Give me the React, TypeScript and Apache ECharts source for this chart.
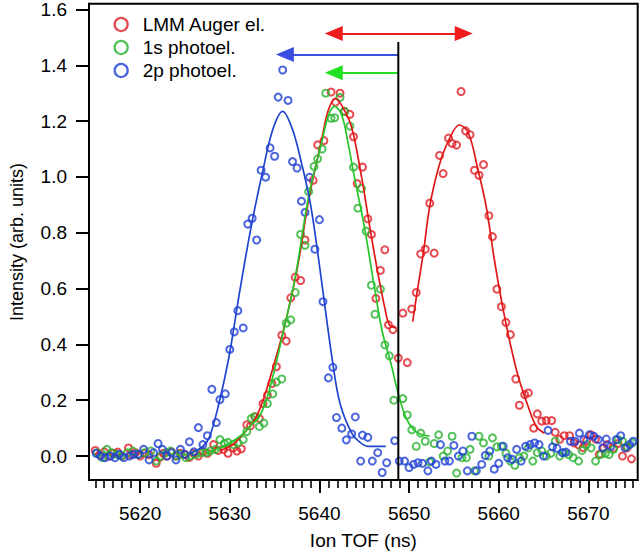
import React, { useEffect, useRef } from "react";
import * as echarts from "echarts";

// ---- data ----
const redData: [number, number][] = [
  [5615.0, 0.02], [5615.5, 0.005], [5616.0, 0.015], [5616.5, 0.0], [5617.0, 0.01], [5617.5, 0.014],
  [5618.0, 0.0], [5618.7, 0.029], [5619.0, 0.005], [5619.5, 0.012], [5620.0, 0.0], [5620.5, 0.01],
  [5621.0, 0.005], [5621.8, -0.026], [5622.2, -0.005], [5622.6, 0.01], [5623.0, 0.0], [5623.5, 0.015],
  [5624.0, 0.0], [5624.5, 0.01], [5625.0, 0.005], [5625.5, -0.005], [5626.0, 0.01], [5626.5, 0.0],
  [5627.0, 0.015], [5627.5, 0.01], [5628.2, 0.041], [5628.7, 0.02], [5629.3, 0.024], [5629.8, 0.01],
  [5630.4, 0.029], [5630.8, 0.018], [5631.3, 0.026], [5631.9, 0.112], [5632.3, 0.108], [5632.8, 0.141],
  [5633.3, 0.135], [5633.7, 0.188], [5634.2, 0.218], [5634.7, 0.26], [5635.2, 0.32], [5635.8, 0.433],
  [5636.3, 0.412], [5636.8, 0.567], [5637.3, 0.641], [5637.9, 0.629], [5638.4, 0.774], [5639.3, 0.988],
  [5639.8, 1.115], [5640.5, 1.13], [5641.3, 1.304], [5641.8, 1.268], [5642.3, 1.3], [5642.8, 1.235],
  [5643.4, 1.224], [5643.8, 1.144], [5644.2, 0.976], [5644.8, 1.035], [5645.4, 0.85], [5645.8, 0.794],
  [5646.3, 0.565], [5646.8, 0.665], [5647.3, 0.739], [5647.7, 0.47], [5648.2, 0.453], [5648.8, 0.351],
  [5649.3, 0.512], [5649.8, 0.335], [5650.3, 0.527], [5650.8, 0.586], [5651.3, 0.724], [5651.8, 0.741],
  [5652.3, 0.906], [5652.8, 0.727], [5653.4, 1.077], [5653.8, 1.012], [5654.4, 1.139], [5654.8, 1.12],
  [5655.3, 1.114], [5655.8, 1.306], [5656.3, 1.165], [5656.8, 1.151], [5657.3, 1.024], [5657.8, 1.006],
  [5658.3, 1.044], [5658.9, 0.861], [5659.3, 0.786], [5659.8, 0.598], [5660.3, 0.535], [5660.8, 0.479],
  [5661.3, 0.435], [5661.9, 0.276], [5662.3, 0.182], [5662.9, 0.22], [5663.3, 0.226], [5663.9, 0.1],
  [5664.3, 0.151], [5664.8, 0.125], [5665.3, 0.127], [5665.9, 0.127], [5666.3, 0.085], [5666.8, 0.06],
  [5667.3, 0.073], [5667.9, 0.073], [5668.4, 0.047], [5668.9, 0.04], [5669.4, 0.03], [5669.8, 0.055],
  [5670.3, 0.076], [5670.8, 0.061], [5671.2, 0.006], [5671.7, 0.03], [5672.1, 0.041], [5672.8, 0.029],
  [5673.3, 0.045], [5673.8, 0.0], [5674.3, 0.029], [5674.8, -0.01],
];

const greenData: [number, number][] = [
  [5615.2, 0.012], [5615.8, -0.006], [5616.3, 0.024], [5616.8, 0.012], [5617.4, 0.006], [5617.9, 0.0],
  [5618.6, 0.012], [5619.2, 0.018], [5619.8, 0.006], [5620.5, 0.012], [5621.2, 0.018], [5621.8, -0.018],
  [5622.3, 0.0], [5622.9, 0.012], [5623.4, 0.018], [5624.0, 0.0], [5624.5, 0.006], [5625.1, -0.006],
  [5625.6, 0.0], [5626.2, 0.006], [5626.7, 0.012], [5627.3, 0.012], [5627.8, 0.018], [5628.4, 0.024],
  [5628.9, 0.059], [5629.4, 0.045], [5629.8, 0.049], [5630.4, 0.041], [5630.9, 0.047], [5631.5, 0.059],
  [5631.9, 0.088], [5632.4, 0.135], [5632.8, 0.141], [5633.3, 0.106], [5633.8, 0.118], [5634.2, 0.188],
  [5634.8, 0.223], [5635.2, 0.265], [5635.8, 0.276], [5636.3, 0.476], [5636.8, 0.488], [5637.3, 0.586],
  [5637.9, 0.794], [5638.4, 0.755], [5638.8, 0.947], [5639.4, 1.038], [5639.8, 1.065], [5640.3, 1.1],
  [5640.7, 1.3], [5641.3, 1.21], [5641.7, 1.212], [5642.3, 1.285], [5642.8, 1.235], [5643.4, 1.182],
  [5643.8, 1.035], [5644.3, 0.888], [5644.7, 0.959], [5645.2, 0.806], [5645.8, 0.612], [5646.2, 0.508],
  [5646.8, 0.598], [5647.3, 0.398], [5647.8, 0.359], [5648.3, 0.2], [5649.3, 0.206], [5649.8, 0.147],
  [5650.3, 0.094], [5650.8, 0.035], [5651.3, 0.082], [5651.8, 0.053], [5652.3, -0.021], [5652.8, 0.045],
  [5653.3, 0.076], [5653.8, 0.0], [5654.3, 0.018], [5654.8, 0.071], [5655.3, -0.061], [5655.9, -0.006],
  [5656.4, -0.006], [5656.8, 0.024], [5657.3, -0.053], [5657.8, 0.071], [5658.3, 0.047], [5658.9, 0.0],
  [5659.3, 0.065], [5659.8, 0.033], [5660.3, 0.035], [5660.8, 0.01], [5661.3, -0.018], [5661.8, -0.033],
  [5662.3, -0.006], [5662.8, 0.0], [5663.3, 0.029], [5663.8, -0.018], [5664.3, 0.012], [5664.8, 0.018],
  [5665.3, 0.0], [5665.8, 0.01], [5666.3, 0.053], [5666.8, 0.0], [5667.3, 0.012], [5667.8, 0.005],
  [5668.3, -0.006], [5668.9, -0.018], [5669.3, 0.02], [5669.8, 0.041], [5670.3, 0.029], [5670.8, -0.018],
  [5671.4, 0.006], [5671.9, 0.01], [5672.3, 0.005], [5672.8, 0.024], [5673.3, 0.059], [5673.8, 0.053],
  [5674.3, 0.035], [5674.9, 0.047],
];

const blueData: [number, number][] = [
  [5615.1, 0.01], [5615.6, 0.0], [5616.1, -0.006], [5616.7, 0.0], [5617.2, -0.006], [5617.7, 0.006],
  [5618.2, -0.006], [5618.8, 0.0], [5619.3, 0.006], [5619.8, 0.006], [5620.4, 0.024], [5621.0, -0.014],
  [5621.5, 0.012], [5622.0, 0.045], [5622.5, 0.024], [5623.0, 0.0], [5623.5, 0.012], [5624.0, -0.014],
  [5624.5, 0.024], [5625.0, 0.006], [5625.5, 0.051], [5626.0, 0.015], [5626.5, 0.102], [5627.0, 0.041],
  [5627.5, 0.073], [5628.0, 0.239], [5628.5, 0.12], [5628.9, 0.202], [5629.5, 0.223], [5630.0, 0.382],
  [5630.5, 0.445], [5630.9, 0.521], [5631.5, 0.459], [5632.0, 0.831], [5632.5, 0.852], [5633.0, 0.774],
  [5633.5, 1.024], [5634.0, 0.999], [5634.5, 1.104], [5635.0, 1.074], [5635.4, 1.286], [5635.9, 1.383],
  [5636.5, 1.274], [5637.0, 1.055], [5637.5, 1.032], [5638.0, 0.913], [5638.4, 0.873], [5638.9, 0.999],
  [5639.5, 0.741], [5640.0, 0.847], [5640.4, 0.553], [5641.0, 0.28], [5641.5, 0.318], [5641.9, 0.138],
  [5642.5, 0.1], [5643.0, 0.058], [5643.6, 0.079], [5644.0, 0.14], [5644.6, -0.018], [5644.8, 0.075],
  [5645.4, 0.067], [5645.9, -0.018], [5646.5, 0.012], [5647.0, -0.059], [5647.5, -0.024], [5648.4, 0.055],
  [5648.9, -0.018], [5649.5, -0.018], [5650.0, -0.041], [5650.5, -0.03], [5651.0, -0.024], [5651.5, -0.026],
  [5652.1, -0.053], [5652.5, -0.018], [5653.0, -0.03], [5653.5, 0.041], [5654.0, -0.018], [5654.5, -0.018],
  [5655.0, 0.038], [5655.5, 0.0], [5656.0, 0.018], [5656.5, -0.053], [5657.0, 0.071], [5657.5, -0.053],
  [5658.1, -0.03], [5658.5, 0.002], [5659.0, 0.018], [5659.5, -0.047], [5660.0, -0.026], [5660.5, 0.035],
  [5661.0, -0.006], [5661.5, -0.012], [5662.0, 0.024], [5662.5, -0.018], [5663.0, 0.035], [5663.5, 0.041],
  [5664.0, 0.047], [5664.5, 0.041], [5665.0, 0.0], [5665.5, 0.092], [5666.0, 0.033], [5666.5, 0.028],
  [5667.1, 0.012], [5667.5, 0.014], [5668.0, 0.053], [5668.5, 0.053], [5669.0, 0.082], [5669.5, 0.059],
  [5670.1, 0.076], [5670.6, 0.071], [5671.1, 0.059], [5671.6, 0.029], [5672.0, 0.061], [5672.5, 0.035],
  [5673.1, 0.059], [5673.6, 0.073], [5674.1, 0.029], [5674.6, 0.041], [5675.0, 0.053],
];

// fitted curves
const redFit1: [number, number][] = [
  [5629.0, 0.02], [5630.5, 0.045], [5631.5, 0.08], [5632.6, 0.12], [5633.5, 0.18], [5634.4, 0.27],
  [5635.9, 0.44], [5637.0, 0.59], [5637.8, 0.72], [5638.8, 0.918], [5640.3, 1.141], [5641.0, 1.24],
  [5641.8, 1.28], [5642.6, 1.25], [5643.6, 1.177], [5644.7, 1.0], [5645.6, 0.824], [5646.5, 0.659],
  [5647.3, 0.53], [5647.8, 0.47], [5648.5, 0.459],
];
const redFit2: [number, number][] = [
  [5650.4, 0.482], [5650.9, 0.588], [5651.6, 0.73], [5652.3, 0.894], [5653.3, 1.035], [5654.4, 1.13],
  [5655.6, 1.186], [5656.6, 1.159], [5657.7, 1.024], [5658.6, 0.894], [5659.5, 0.706], [5660.4, 0.541],
  [5661.3, 0.4], [5662.2, 0.282], [5663.3, 0.176], [5664.2, 0.106], [5665.1, 0.082],
];
const greenFit: [number, number][] = [
  [5627.5, 0.012], [5629.0, 0.03], [5630.4, 0.055], [5631.5, 0.08], [5632.5, 0.115], [5633.3, 0.14],
  [5634.4, 0.235], [5635.9, 0.435], [5637.3, 0.64], [5638.8, 0.93], [5640.3, 1.13], [5641.0, 1.22],
  [5641.7, 1.253], [5642.5, 1.22], [5643.2, 1.12], [5643.9, 1.0], [5645.0, 0.824], [5646.1, 0.612],
  [5647.0, 0.447], [5648.0, 0.329], [5648.7, 0.235], [5649.6, 0.141], [5650.5, 0.094], [5651.3, 0.078],
  [5652.3, 0.071],
];
const blueFit: [number, number][] = [
  [5625.5, 0.01], [5626.0, 0.015], [5627.0, 0.035], [5627.7, 0.065], [5628.7, 0.176], [5629.9, 0.353],
  [5631.1, 0.588], [5632.4, 0.824], [5633.7, 1.024], [5634.8, 1.17], [5635.9, 1.235], [5637.0, 1.17],
  [5638.0, 1.05], [5638.9, 0.92], [5639.5, 0.8], [5640.4, 0.588], [5641.4, 0.353], [5642.3, 0.188],
  [5643.6, 0.082], [5644.5, 0.05], [5645.4, 0.035], [5647.4, 0.035],
];

// annotations (data coordinates)
const markerLineX = 5648.8;
const markerLineTop = 1.483;
const redArrow = { from: 5641.6, to: 5656.1, y: 1.514 };
const blueArrow = { from: 5648.8, to: 5636.15, y: 1.439 };
const greenArrow = { from: 5648.8, to: 5641.6, y: 1.373 };

const xMajorTicks = [5620, 5630, 5640, 5650, 5660, 5670];
const yTicks = [0, 0.2, 0.4, 0.6, 0.8, 1.0, 1.2, 1.4, 1.6];
const xMin = 5614.3;
const xMax = 5675.5;
const yMin = -0.0858;
const yMax = 1.62;

const seriesNames = ["LMM Auger el.", "1s photoel.", "2p photoel."];
const RED = "#e01f26";
const GREEN = "#2cb332";
const BLUE = "#1f40d4";
const FONT = "Arial, 'Liberation Sans', sans-serif";

export default function App() {
  const ref = useRef<HTMLDivElement>(null);
  useEffect(() => {
    if (!ref.current) return;
    document.body.style.margin = "0";
    const chart = echarts.init(ref.current, null, { renderer: "svg" });
    const minorTicks: number[] = [];
    for (let v = 5615; v <= 5675; v += 1) if (v % 10 !== 0) minorTicks.push(v);

    const scatter = (name: string, data: [number, number][], color: string, z: number) => ({
      name,
      type: "scatter",
      data,
      symbol: "circle",
      symbolSize: 7,
      z,
      itemStyle: { color: "rgba(0,0,0,0)", borderColor: color, borderWidth: 2 },
      emphasis: { disabled: true },
    });
    const fit = (name: string, data: [number, number][], color: string) => ({
      name,
      type: "line",
      data,
      smooth: 0.35,
      symbol: "none",
      z: 5,
      lineStyle: { color, width: 1.7 },
      emphasis: { disabled: true },
    });
    const arrow = (
      name: string,
      a: { from: number; to: number; y: number },
      color: string,
      both: boolean
    ) => ({
      name,
      type: "line",
      data: [],
      z: 6,
      markLine: {
        silent: true,
        animation: false,
        symbol: [both ? "triangle" : "none", "triangle"],
        symbolSize: [15, 18],
        label: { show: false },
        lineStyle: { color, width: 2.2, type: "solid" },
        emphasis: { disabled: true },
        data: [[{ coord: [a.from, a.y] }, { coord: [a.to, a.y] }]],
      },
    });

    chart.setOption({
      animation: false,
      textStyle: { fontFamily: FONT },
      grid: {
        left: 80,
        top: 1,
        right: 2.3,
        bottom: 70.7,
        show: true,
        borderColor: "#000",
        borderWidth: 2,
        containLabel: false,
      },
      legend: {
        orient: "vertical",
        left: 108.5,
        top: 10,
        itemWidth: 13,
        itemHeight: 13,
        itemGap: 4,
        icon: "circle",
        selectedMode: false,
        textStyle: { fontSize: 19, color: "#000", fontFamily: FONT, lineHeight: 18, padding: [0, 0, 0, 10] },
        data: [
          { name: seriesNames[0], itemStyle: { color: "rgba(0,0,0,0)", borderColor: RED, borderWidth: 2.3 } },
          { name: seriesNames[1], itemStyle: { color: "rgba(0,0,0,0)", borderColor: GREEN, borderWidth: 2.3 } },
          { name: seriesNames[2], itemStyle: { color: "rgba(0,0,0,0)", borderColor: BLUE, borderWidth: 2.3 } },
        ],
      },
      xAxis: [
        {
          type: "value",
          min: xMin,
          max: xMax,
          name: "Ion TOF (ns)",
          nameLocation: "middle",
          nameGap: 51,
          nameTextStyle: { fontSize: 19, color: "#000", fontFamily: FONT },
          axisLine: { show: true, onZero: false, lineStyle: { color: "#000", width: 2 } },
          axisTick: { show: true, customValues: xMajorTicks, length: 13, lineStyle: { color: "#000", width: 2 } },
          axisLabel: {
            customValues: xMajorTicks,
            fontSize: 19,
            color: "#000",
            margin: 24,
            fontFamily: FONT,
            formatter: (v: number) => String(v),
          },
          splitLine: { show: false },
        },
        {
          type: "value",
          min: xMin,
          max: xMax,
          position: "bottom",
          axisLine: { show: false, onZero: false },
          axisTick: { show: true, customValues: minorTicks, length: 8, lineStyle: { color: "#000", width: 1.6 } },
          axisLabel: { show: false },
          splitLine: { show: false },
        },
      ],
      yAxis: {
        type: "value",
        min: yMin,
        max: yMax,
        name: "Intensity (arb. units)",
        nameLocation: "middle",
        nameGap: 63,
        nameRotate: 90,
        nameTextStyle: { fontSize: 18, color: "#000", fontFamily: FONT },
        axisLine: { show: true, onZero: false, lineStyle: { color: "#000", width: 2 } },
        axisTick: { show: true, customValues: yTicks, length: 13, lineStyle: { color: "#000", width: 2 } },
        axisLabel: {
          customValues: yTicks,
          fontSize: 19,
          color: "#000",
          margin: 22,
          fontFamily: FONT,
          formatter: (v: number) => v.toFixed(1),
        },
        splitLine: { show: false },
      },
      series: [
        scatter(seriesNames[0], redData, RED, 2),
        scatter(seriesNames[1], greenData, GREEN, 3),
        scatter(seriesNames[2], blueData, BLUE, 4),
        fit("redFit1", redFit1, "#e01818"),
        fit("redFit2", redFit2, "#e01818"),
        fit("greenFit", greenFit, "#27c42a"),
        fit("blueFit", blueFit, "#1f45cf"),
        {
          name: "marker",
          type: "line",
          data: [
            [markerLineX, markerLineTop],
            [markerLineX, yMin],
          ],
          symbol: "none",
          z: 6,
          lineStyle: { color: "#000", width: 2 },
          emphasis: { disabled: true },
        },
        arrow("redArrow", redArrow, "#ee1c1c", true),
        arrow("blueArrow", blueArrow, "#3a4fe0", false),
        arrow("greenArrow", greenArrow, "#22e022", false),
      ],
    });
    return () => chart.dispose();
  }, []);
  return <div ref={ref} style={{ width: 640, height: 555 }} />;
}
